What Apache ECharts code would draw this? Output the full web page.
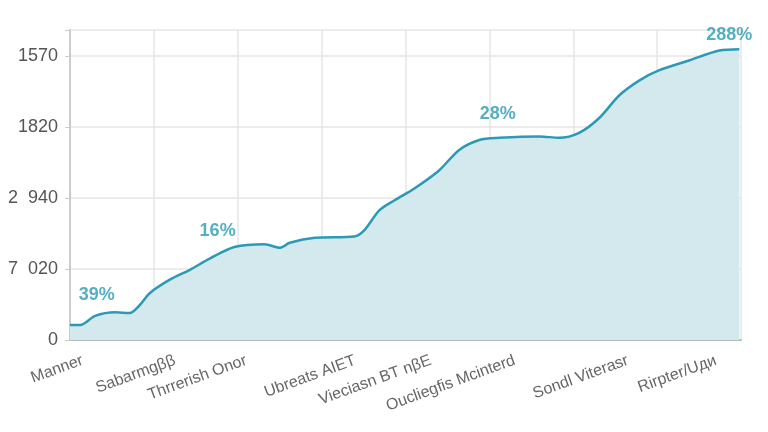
<!DOCTYPE html>
<html>
<head>
<meta charset="utf-8">
<script src="https://cdn.jsdelivr.net/npm/echarts@6/dist/echarts.min.js"></script>
<style>html,body{margin:0;background:#fff}#chart{width:768px;height:432px}</style>
</head>
<body>
<div id="chart"></div>
<script>
// y tick labels as printed on the chart (bottom to top)
const yLabels = ["0", "7  020", "2  940", "1820", "1570"];
// x labels and where they sit on the axis (0..8)
const xLabels = ["Manner", "Sabarmg\u03b2\u03b2", "Thrrerish Onor", "Ubreats AIET", "Vieciasn BT n\u03b2E", "Oucliegfis Mcinterd", "Sondl Viterasr", "Rirpter/U\u0434\u0438"];
const xLabelPos = [0.15, 1.25, 2.1, 3.4, 4.3, 5.3, 6.65, 7.7];
// the line
const lineX = [0, 0.12, 0.3, 0.54, 0.71, 0.83, 0.95, 1.19, 1.43, 1.67, 1.96, 2.32, 2.5, 2.62, 2.92, 3.39, 3.51, 3.69, 3.87, 4.11, 4.4, 4.64, 4.88, 5.12, 5.6, 5.83, 6.07, 6.31, 6.55, 6.79, 7.02, 7.38, 7.74, 7.98];
const lineY = [0.21, 0.21, 0.34, 0.39, 0.38, 0.49, 0.66, 0.85, 0.99, 1.15, 1.31, 1.35, 1.3, 1.37, 1.44, 1.46, 1.55, 1.83, 1.97, 2.14, 2.39, 2.68, 2.82, 2.85, 2.87, 2.85, 2.92, 3.13, 3.45, 3.66, 3.8, 3.94, 4.08, 4.1];
// percentage annotations
const noteText = ["39%", "16%", "28%", "288%"];
const noteX = [0.32, 1.76, 5.1, 7.86];
const noteY = [0.63, 1.54, 3.18, 4.3];

const chart = echarts.init(document.getElementById("chart"));
chart.setOption({
  animation: false,
  grid: { left: 70, right: 27, top: 30, bottom: 92 },
  xAxis: {
    type: "value", min: 0, max: 8, interval: 1,
    axisLine: { show: true, lineStyle: { color: "#bbb", width: 2 } },
    axisTick: { show: false },
    splitLine: { show: true, lineStyle: { color: "#e6e6e6", width: 1.5 } },
    axisLabel: {
      customValues: xLabelPos,
      formatter: (v) => xLabels[xLabelPos.indexOf(v)] || "",
      rotate: 20, color: "#666", fontSize: 16, fontFamily: "Liberation Sans", margin: 20
    }
  },
  yAxis: {
    type: "value", min: 0, max: 4.37, interval: 1,
    axisLine: { show: true, lineStyle: { color: "#ccc", width: 2 } },
    splitLine: { lineStyle: { color: "#e6e6e6", width: 1.5 } },
    axisLabel: {
      formatter: (v) => (Number.isInteger(v) ? yLabels[v] : ""),
      color: "#555", fontSize: 18, fontFamily: "Liberation Sans", margin: 12
    }
  },
  series: [
    {
      type: "line", smooth: 0.3, symbol: "none",
      data: lineX.map((x, i) => [x, lineY[i]]),
      lineStyle: { color: "#2b9bb5", width: 2.5 },
      areaStyle: { color: "#d3e9ee", opacity: 1 }
    },
    {
      type: "scatter", symbolSize: 0, clip: false,
      data: noteX.map((x, i) => [x, noteY[i], noteText[i]]),
      label: {
        show: true, position: "inside", formatter: (p) => p.value[2],
        color: "#2a9ab3", fontSize: 18, fontWeight: "bold", fontFamily: "Liberation Sans"
      }
    }
  ]
});
</script>
</body>
</html>
